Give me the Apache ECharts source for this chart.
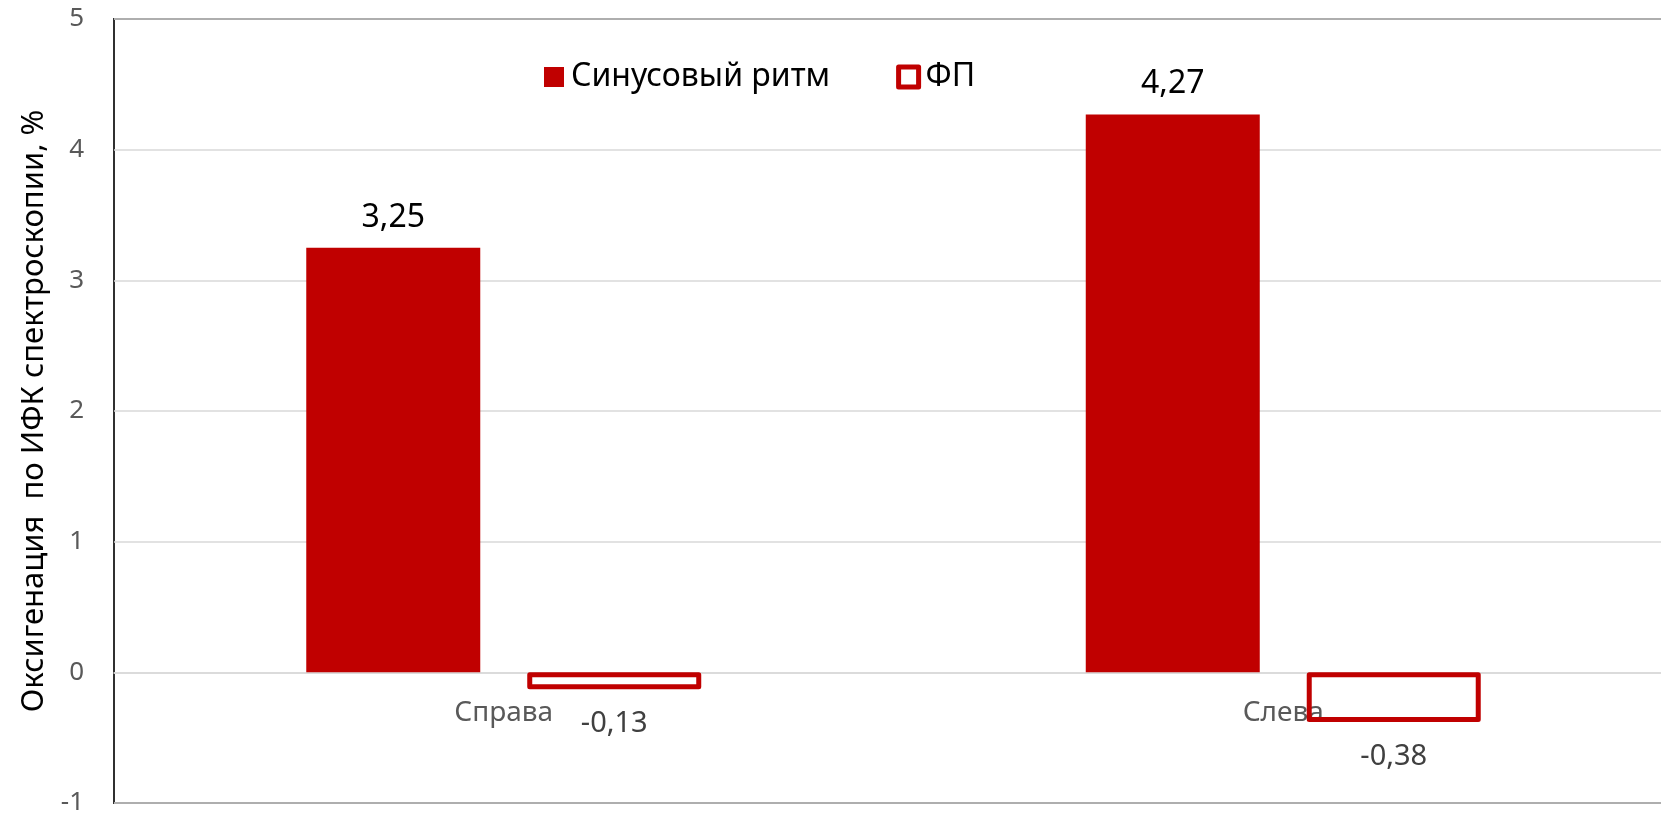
<!DOCTYPE html>
<html>
<head>
<meta charset="utf-8">
<script src="https://cdn.jsdelivr.net/npm/echarts@6/dist/echarts.min.js"></script>
<style>
  html, body { margin: 0; padding: 0; background: #ffffff; }
  #chart { width: 1661px; height: 814px; }
</style>
</head>
<body>
<div id="chart"></div>
<script>
// Категории (сторона измерения)
const categories = ['Справа', 'Слева'];
// Изменение оксигенации, %
const sinusValues = [3.25, 4.27];
const afValues = [-0.13, -0.38];
// Подписи рядов и оси
const seriesNames = ['Синусовый ритм', 'ФП'];
const yAxisTitle = 'Оксигенация  по ИФК спектроскопии, %';
const yTicks = { min: -1, max: 5, step: 1 };

const RED = '#c00000';
const FONT = '"Noto Sans", "Open Sans", sans-serif';
// расстояние от нулевой линии до центра подписей категорий, px
const CATEGORY_LABEL_OFFSET = 41;

const fmt = v => String(v).replace('.', ',');

const chart = echarts.init(document.getElementById('chart'), null, { renderer: 'canvas' });

chart.setOption({
  animation: false,
  backgroundColor: '#ffffff',
  textStyle: { fontFamily: FONT },
  grid: {
    left: 114,
    right: -12,
    top: 19,
    bottom: 11,
    show: true,
    borderColor: '#303030',
    borderWidth: 2,
    containLabel: false,
    outerBoundsMode: 'none'
  },
  legend: {
    left: 539,
    top: 56,
    itemWidth: 20,
    itemHeight: 20,
    itemGap: 66,
    icon: 'rect',
    textStyle: { fontFamily: FONT, fontSize: 32, color: '#000000', padding: [0, 0, 0, 2] },
    data: [
      { name: seriesNames[0] },
      { name: seriesNames[1], itemStyle: { borderWidth: 5, borderColor: RED, color: '#ffffff' } }
    ]
  },
  xAxis: {
    type: 'category',
    data: categories,
    axisLine: { show: true, onZero: true, lineStyle: { color: '#d9d9d9', width: 1.5 } },
    axisTick: { show: false },
    axisLabel: {
      fontFamily: FONT, fontSize: 28, color: '#595959',
      verticalAlign: 'middle', margin: 26
    },
    splitLine: { show: false }
  },
  yAxis: {
    type: 'value',
    min: yTicks.min,
    max: yTicks.max,
    interval: yTicks.step,
    axisLine: { show: false },
    axisTick: { show: false },
    axisLabel: { fontFamily: FONT, fontSize: 26, color: '#595959', margin: 30 },
    splitLine: { show: true, lineStyle: { color: '#d9d9d9', width: 1.5 } },
    name: yAxisTitle,
    nameLocation: 'middle',
    nameGap: 53,
    nameRotate: 90,
    nameTextStyle: { fontFamily: FONT, fontSize: 31, color: '#000000' }
  },
  series: [
    {
      name: seriesNames[0],
      type: 'bar',
      data: sinusValues,
      barWidth: 174,
      barGap: '27%',
      itemStyle: { color: RED },
      label: {
        show: true,
        position: 'outside',
        distance: 14,
        fontFamily: FONT,
        fontSize: 32,
        color: '#000000',
        formatter: p => fmt(p.value)
      }
    },
    {
      name: seriesNames[1],
      type: 'bar',
      data: afValues,
      barWidth: 174,
      itemStyle: {
        color: 'rgba(255,255,255,0)',
        borderColor: RED,
        borderWidth: 5,
        borderJoin: 'round'
      },
      label: {
        show: true,
        position: 'outside',
        distance: 20,
        fontFamily: FONT,
        fontSize: 29,
        color: '#404040',
        formatter: p => fmt(p.value)
      }
    }
  ]
});

// Подписи категорий ставим под нулевой линией оси значений
const zeroY = chart.convertToPixel({ yAxisIndex: 0 }, 0);
const bottomY = chart.convertToPixel({ yAxisIndex: 0 }, yTicks.min);
chart.setOption({
  xAxis: { axisLabel: { margin: zeroY + CATEGORY_LABEL_OFFSET - bottomY } }
});
</script>
</body>
</html>
